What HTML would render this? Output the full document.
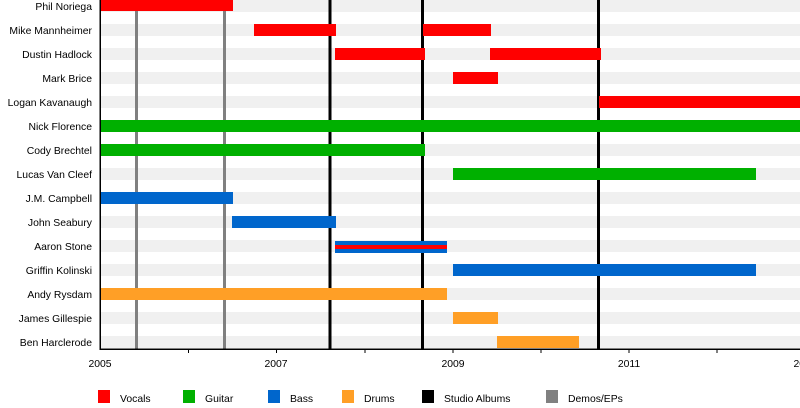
<!DOCTYPE html>
<html><head><meta charset="utf-8"><style>
body{margin:0;background:#fff;}
svg{display:block;font-family:"Liberation Sans",sans-serif;font-size:10.4px;}
</style></head><body>
<svg width="800" height="408" xmlns="http://www.w3.org/2000/svg">
<g fill="#f0f0f0">
<rect x="100" y="0" width="700" height="12"/><rect x="100" y="24" width="700" height="12"/><rect x="100" y="48" width="700" height="12"/><rect x="100" y="72" width="700" height="12"/><rect x="100" y="96" width="700" height="12"/><rect x="100" y="120" width="700" height="12"/><rect x="100" y="144" width="700" height="12"/><rect x="100" y="168" width="700" height="12"/><rect x="100" y="192" width="700" height="12"/><rect x="100" y="216" width="700" height="12"/><rect x="100" y="240" width="700" height="12"/><rect x="100" y="264" width="700" height="12"/><rect x="100" y="288" width="700" height="12"/><rect x="100" y="312" width="700" height="12"/><rect x="100" y="336" width="700" height="12"/>
</g>
<g fill="#808080"><rect x="135" y="0" width="3" height="349"/><rect x="223" y="0" width="3" height="349"/></g>
<g fill="#000"><rect x="328.5" y="0" width="3" height="349"/><rect x="421" y="0" width="3" height="349"/><rect x="597" y="0" width="3" height="349"/></g>
<g fill="#ff0000">
<rect x="100" y="0" width="133" height="11"/>
<rect x="254" y="24" width="82" height="12"/><rect x="423" y="24" width="68" height="12"/>
<rect x="335" y="48" width="90" height="12"/><rect x="490" y="48" width="111" height="12"/>
<rect x="453" y="72" width="45" height="12"/>
<rect x="599" y="96" width="201" height="12"/>
</g>
<g fill="#00b000">
<rect x="100" y="120" width="700" height="12"/>
<rect x="100" y="144" width="325" height="12"/>
<rect x="453" y="168" width="303" height="12"/>
</g>
<g fill="#0066cc">
<rect x="100" y="192" width="133" height="12"/>
<rect x="232" y="216" width="104" height="12"/>
<rect x="335" y="241" width="112" height="12"/>
<rect x="453" y="264" width="303" height="12"/>
</g>
<rect x="335" y="245" width="112" height="4" fill="#ff0000"/>
<g fill="#ff9f26">
<rect x="100" y="288" width="347" height="12"/>
<rect x="453" y="312" width="45" height="12"/>
<rect x="497" y="336" width="82" height="12"/>
</g>
<rect x="99.5" y="0" width="1.5" height="350" fill="#000"/>
<rect x="99.5" y="348.5" width="701" height="1.5" fill="#000"/>
<g fill="#000"><rect x="188" y="349" width="1" height="4"/><rect x="276" y="349" width="1" height="4"/><rect x="364.5" y="349" width="1" height="4"/><rect x="452.5" y="349" width="1" height="4"/><rect x="540.5" y="349" width="1" height="4"/><rect x="628.5" y="349" width="1" height="4"/><rect x="716.5" y="349" width="1" height="4"/></g>
<g text-anchor="middle" fill="#000"><text x="100" y="367">2005</text><text x="276" y="367">2007</text><text x="453" y="367">2009</text><text x="629" y="367">2011</text><text x="805" y="367">2013</text></g>
<g text-anchor="end" fill="#000">
<text x="92" y="10">Phil Noriega</text><text x="92" y="34">Mike Mannheimer</text><text x="92" y="58">Dustin Hadlock</text><text x="92" y="82">Mark Brice</text><text x="92" y="106">Logan Kavanaugh</text><text x="92" y="130">Nick Florence</text><text x="92" y="154">Cody Brechtel</text><text x="92" y="178">Lucas Van Cleef</text><text x="92" y="202">J.M. Campbell</text><text x="92" y="226">John Seabury</text><text x="92" y="250">Aaron Stone</text><text x="92" y="274">Griffin Kolinski</text><text x="92" y="298">Andy Rysdam</text><text x="92" y="322">James Gillespie</text><text x="92" y="346">Ben Harclerode</text>
</g>
<rect x="98" y="390" width="12" height="13" fill="#ff0000"/><text x="120" y="402">Vocals</text>
<rect x="183" y="390" width="12" height="13" fill="#00b000"/><text x="205" y="402">Guitar</text>
<rect x="268" y="390" width="12" height="13" fill="#0066cc"/><text x="290" y="402">Bass</text>
<rect x="342" y="390" width="12" height="13" fill="#ff9f26"/><text x="364" y="402">Drums</text>
<rect x="422" y="390" width="12" height="13" fill="#000"/><text x="444" y="402">Studio Albums</text>
<rect x="546" y="390" width="12" height="13" fill="#808080"/><text x="568" y="402">Demos/EPs</text>
</svg>
</body></html>
